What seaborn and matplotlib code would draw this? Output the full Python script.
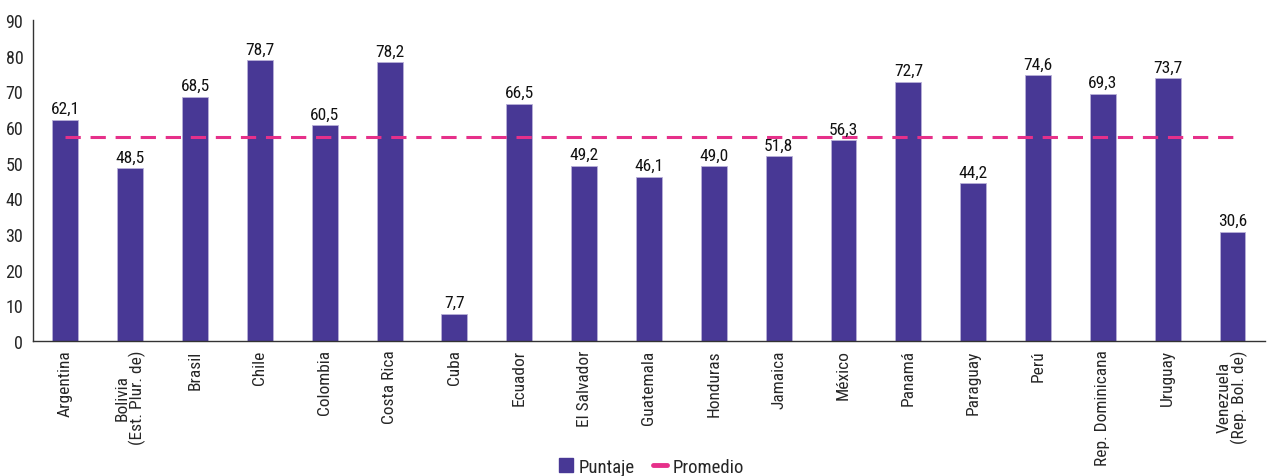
import matplotlib
matplotlib.use("Agg")
import matplotlib.pyplot as plt
import seaborn as sns
import numpy as np
import pandas as pd
from matplotlib.lines import Line2D
from matplotlib.patches import Patch

paises = ["Argentina", "Bolivia\n(Est. Plur. de)", "Brasil", "Chile", "Colombia",
          "Costa Rica", "Cuba", "Ecuador", "El Salvador", "Guatemala", "Honduras",
          "Jamaica", "México", "Panamá", "Paraguay", "Perú", "Rep. Dominicana",
          "Uruguay", "Venezuela\n(Rep. Bol. de)"]
puntaje = [62.1, 48.5, 68.5, 78.7, 60.5, 78.2, 7.7, 66.5, 49.2, 46.1, 49.0,
           51.8, 56.3, 72.7, 44.2, 74.6, 69.3, 73.7, 30.6]
promedio = 57.3
yticks = [0, 10, 20, 30, 40, 50, 60, 70, 80, 90]

bar_color = "#483895"
line_color = "#E6308A"

sns.set_theme(style="white")
plt.rcParams['font.family'] = ['Roboto Condensed', 'DejaVu Sans']

df = pd.DataFrame({"pais": paises, "puntaje": puntaje,
                   "promedio": [promedio] * len(paises)})

fig = plt.figure(figsize=(12.7, 4.77), dpi=100)
ax = fig.add_axes([0.026, 0.283, 0.970, 0.673])

sns.barplot(data=df, x="pais", y="puntaje", color=bar_color, width=0.4,
            saturation=1, ax=ax, edgecolor="#b8b0d8", linewidth=0.6)
sns.lineplot(data=df, x="pais", y="promedio", color=line_color, ax=ax,
             linestyle=(0, (5, 3.2)), linewidth=2.2, sort=False)

for i, v in enumerate(puntaje):
    ax.text(i, v + 1.0, f"{v:.1f}".replace(".", ","), ha="center", va="bottom",
            fontsize=12.5, color="#111111")

n = len(paises)
ax.set_xlim(-0.5, n - 0.5)
ax.set_ylim(0, 90)
ax.set_yticks(yticks)
ax.set_yticklabels([str(t) for t in yticks], fontsize=13)
ax.set_xticks(np.arange(n))
ax.set_xticklabels(paises, rotation=90, fontsize=12.5, linespacing=0.95)
ax.set_xticks(np.arange(-0.5, n, 1), minor=True)
ax.tick_params(axis="x", which="major", length=0, pad=6)
ax.tick_params(axis="x", which="minor", length=5, width=1, color="#333333", direction="out")
ax.tick_params(axis="y", length=5, width=1, color="#333333", direction="out", pad=2)
ax.set_xlabel("")
ax.set_ylabel("")
for s in ["top", "right"]:
    ax.spines[s].set_visible(False)
for s in ["left", "bottom"]:
    ax.spines[s].set_color("#333333")
    ax.spines[s].set_linewidth(1)

handles = [Patch(facecolor=bar_color, edgecolor=bar_color),
           Line2D([0], [0], color=line_color, linewidth=3.5, solid_capstyle="round")]
fig.legend(handles, ["Puntaje", "Promedio"], loc="lower center",
           bbox_to_anchor=(0.513, -0.035), ncol=2, frameon=False, fontsize=13.5,
           handlelength=0.75, handleheight=0.75, handletextpad=0.3, columnspacing=1.0)

fig.savefig("out.png", dpi=100)
